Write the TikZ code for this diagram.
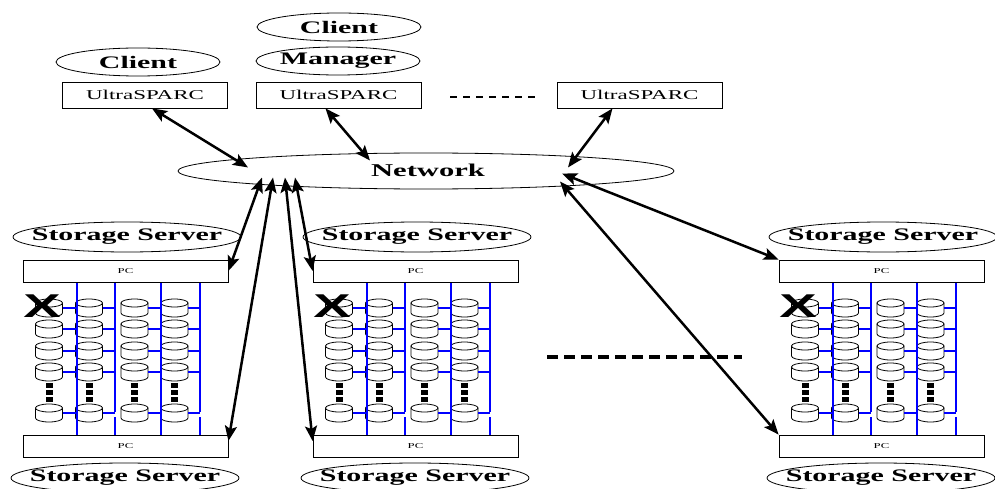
\documentclass[tikz,border=0pt]{standalone}
\usepackage{fontspec}
\setmainfont{Liberation Serif}
\newfontfamily\xfont{Liberation Sans}
\usetikzlibrary{shapes.geometric,arrows.meta}

% the original figure is stretched sideways
\newcommand{\wide}[1]{\scalebox{1.7}[1]{#1}}
% one disk drum, centre (#1,#2)
\newcommand{\drum}[2]{%
  \filldraw[fill=white, line width=0.8pt] (#1-13.5,#2-5) -- (#1-13.5,#2+5) arc[start angle=180,end angle=0,x radius=13.5,y radius=4] -- (#1+13.5,#2-5) -- cycle;
  \filldraw[fill=white, line width=0.8pt] (#1,#2-5) ellipse[x radius=13.5,y radius=4];}

\tikzset{
  tag/.style={inner sep=0pt, font=\fontsize{17.6}{20}\selectfont\bfseries},
  ring/.style={line width=0.8pt},
  cpu/.style={draw, rectangle, inner sep=0pt, line width=0.8pt, minimum width=165, minimum height=26, font=\fontsize{13.5}{15}\selectfont},
  pcbox/.style={draw, rectangle, inner sep=0pt, line width=0.8pt, minimum width=205, minimum height=22, font=\fontsize{7.5}{8}\selectfont},
  link/.style={line width=2.5pt, {Stealth[length=15pt,width=12pt,inset=3pt]}-{Stealth[length=15pt,width=12pt,inset=3pt]}},
  bus/.style={blue, line width=1.5pt}
}

\begin{document}
\begin{tikzpicture}[x=1pt, y=-1pt]
    \useasboundingbox (0,0) rectangle (995,489);

    \node[tag] (cl2) at (339,27) {\wide{Client}};
    \node[tag] (cl1) at (138,62) {\wide{Client}};
    \node[tag] (mgr) at (338,61) {\wide{Manager}};
    \draw[ring] (cl2.center) ellipse[x radius=82, y radius=14];
    \draw[ring] (cl1.center) ellipse[x radius=82, y radius=14];
    \draw[ring] (mgr.center) ellipse[x radius=82, y radius=14];

    \node[cpu] (u1) at (145,95) {\wide{UltraSPARC}};
    \node[cpu] (u2) at (338.5,95) {\wide{UltraSPARC}};
    \node[cpu] (u3) at (639.5,95) {\wide{UltraSPARC}};
    \draw[line width=2pt, dash pattern=on 7pt off 6pt] ([xshift=29pt,yshift=-2pt]u2.east) -- ([xshift=-20pt,yshift=-2pt]u3.west);

    \node[tag, font=\fontsize{18}{20}\selectfont\bfseries] (net) at (428,170) {\wide{Network}};
    \draw[ring] (426,171) ellipse[x radius=248, y radius=18];

    % storage servers
    \foreach \b/\x in {1/23,2/313,3/779}{
    \begin{scope}[shift={(\x,260)}]
        \node[tag] (st\b) at (104,-23) {\wide{Storage Server}};
        \node[tag] (sb\b) at (102,218) {\wide{Storage Server}};
        \draw[ring] (st\b.center) ellipse[x radius=114, y radius=15];
        \draw[ring] (sb\b.center) ellipse[x radius=114, y radius=15];
        \node[pcbox] (pt\b) at (102.5,11) {\wide{PC}};
        \node[pcbox] (pb\b) at (102.5,186) {\wide{PC}};
        \foreach \y in {48,69,91,112,153}
            \foreach \c in {26,66,111.5,151.5}
                \drum{\c}{\y};
        \foreach \c in {26,66,111.5,151.5}{
            \fill (\c-3.5,123) rectangle (\c+3.5,128);
            \fill (\c-3.5,130) rectangle (\c+3.5,135);
            \fill (\c-3.5,137) rectangle (\c+3.5,142);
        }
        \draw[bus] (54,23) -- (54,175);
        \draw[bus] (92,23) -- (92,152) (92,157) -- (92,175);
        \draw[bus] (138,23) -- (138,175);
        \draw[bus] (177,23) -- (177,152) (177,157) -- (177,175);
        \foreach \y in {48,69,91,112,153}
            \foreach \c/\l in {26/54,66/92,111.5/138,151.5/177}
                \draw[bus] (\c+13.5,\y) -- (\l,\y);
        \node[font=\xfont\bfseries\fontsize{33}{33}\selectfont, inner sep=0pt] (x\b) at (19,46) {\wide{X}};
    \end{scope}
    }

    \draw[line width=4.5pt, dash pattern=on 11pt off 6pt] (547,357) -- (742,357);

    \draw[link] ([xshift=7pt]u1.south) -- ([xshift=-180pt,yshift=-4pt]net.north);
    \draw[link] ([xshift=-13pt]u2.south) -- ([xshift=-58pt,yshift=3pt]net.north);
    \draw[link] ([xshift=-27pt]u3.south) -- ([xshift=140pt,yshift=-4pt]net.north);

    \draw[link] ([xshift=-166pt,yshift=-1pt]net.south) -- (pt1.east);
    \draw[link] ([xshift=-155pt,yshift=-1pt]net.south) -- ([yshift=5pt]pb1.east);
    \draw[link] ([xshift=-143pt,yshift=-1pt]net.south) -- ([yshift=5pt]pb2.west);
    \draw[link] ([xshift=-133pt,yshift=-1pt]net.south) -- (pt2.west);
    \draw[link] ([xshift=134pt,yshift=3pt]net.south) -- (pt3.north west);
    \draw[link] ([xshift=132pt,yshift=-5pt]net.south) -- (pb3.north west);
\end{tikzpicture}
\end{document}
